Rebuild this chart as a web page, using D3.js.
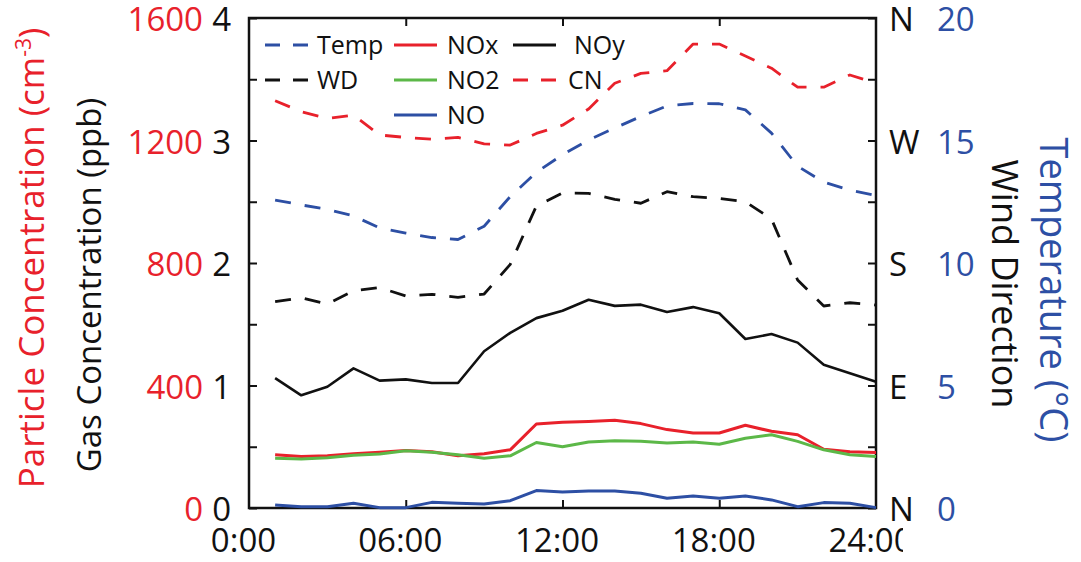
<!DOCTYPE html>
<html>
<head>
<meta charset="utf-8">
<script src="https://cdn.jsdelivr.net/npm/d3@7"></script>
<style>
  html, body { margin: 0; padding: 0; background: #fff; }
  svg { display: block; font-family: "Open Sans", "Noto Sans", sans-serif; }
</style>
</head>
<body>
<svg id="chart" width="1081" height="562"></svg>
<script>
// Diurnal profiles, hourly averages (hour of day 1..24)
const hours = [1, 2, 3, 4, 5, 6, 7, 8, 9, 10, 11, 12, 13, 14, 15, 16, 17, 18, 19, 20, 21, 22, 23, 24];

// Gas concentrations (ppb)
const noy = [1.06, 0.92, 0.99, 1.14, 1.04, 1.05, 1.02, 1.02, 1.28, 1.43, 1.55, 1.61, 1.70, 1.65, 1.66, 1.60, 1.64, 1.59, 1.38, 1.42, 1.35, 1.17, 1.10, 1.03];
const nox = [0.434, 0.42, 0.426, 0.443, 0.456, 0.47, 0.46, 0.426, 0.443, 0.475, 0.686, 0.70, 0.707, 0.716, 0.689, 0.64, 0.612, 0.612, 0.675, 0.626, 0.598, 0.48, 0.46, 0.453];
const no2 = [0.407, 0.40, 0.41, 0.43, 0.44, 0.467, 0.456, 0.434, 0.407, 0.426, 0.535, 0.50, 0.538, 0.549, 0.544, 0.53, 0.538, 0.52, 0.57, 0.598, 0.544, 0.475, 0.434, 0.42];
const no = [0.025, 0.011, 0.011, 0.038, 0.003, 0.003, 0.046, 0.038, 0.033, 0.06, 0.142, 0.131, 0.139, 0.139, 0.12, 0.079, 0.098, 0.079, 0.098, 0.066, 0.011, 0.044, 0.038, 0.003];

// Particle number concentration (cm^-3)
const cn = [1330, 1294, 1272, 1283, 1218, 1210, 1204, 1210, 1189, 1185, 1223, 1250, 1303, 1387, 1419, 1428, 1515, 1515, 1476, 1436, 1374, 1374, 1414, 1387];

// Temperature (deg C) and wind direction (deg)
const temp = [12.57, 12.37, 12.19, 11.92, 11.43, 11.22, 11.04, 10.96, 11.5, 12.71, 13.7, 14.42, 15.02, 15.51, 15.98, 16.41, 16.51, 16.50, 16.25, 15.3, 13.95, 13.3, 12.97, 12.75];
const wd = [151.6, 154.5, 149.9, 159.6, 161.9, 155.8, 157.0, 154.8, 157.2, 179.0, 221.9, 231.4, 231.2, 226.8, 223.9, 232.4, 228.7, 227.5, 225.0, 212.3, 167.5, 148.4, 150.8, 149.1];

// Axis ticks and labels
const xTicks = [0, 6, 12, 18, 24];
const xTickLabels = ["0:00", "06:00", "12:00", "18:00", "24:00"];
const gasTicks = [0, 1, 2, 3, 4];
const cnTicks = [0, 400, 800, 1200, 1600];
const tempTicks = [0, 5, 10, 15, 20];
const wdTicks = [0, 90, 180, 270, 360];
const wdLabels = ["N", "E", "S", "W", "N"];

const RED = "#e8212b", GREEN = "#5cb848", BLUE = "#2d4fa4", BLACK = "#111";

const svg = d3.select("#chart");
const L = 249, R = 876, T = 18, B = 508;

const x = d3.scaleLinear().domain([0, 24]).range([L, R]);
const yGas = d3.scaleLinear().domain([0, 4]).range([B, T]);
const yCN = d3.scaleLinear().domain([0, 1600]).range([B, T]);
const yTemp = d3.scaleLinear().domain([0, 20]).range([B, T]);
const yWD = d3.scaleLinear().domain([0, 360]).range([B, T]);

const tickFont = 33;

function styleAxis(g, color) {
  g.select(".domain").remove();
  g.selectAll(".tick line").attr("stroke", BLACK).attr("stroke-width", 2);
  g.selectAll(".tick text").attr("fill", color).attr("font-size", tickFont)
    .attr("font-family", "'Open Sans', sans-serif");
}

// Inner tick marks on all four sides
const halfTicks = d3.range(0, 4.01, 0.5);
svg.append("g").attr("transform", `translate(${L},0)`)
  .call(d3.axisLeft(yGas).tickValues(halfTicks).tickSize(-8).tickFormat(""))
  .call(g => styleAxis(g, BLACK));
svg.append("g").attr("transform", `translate(${R},0)`)
  .call(d3.axisRight(yGas).tickValues(halfTicks).tickSize(-8).tickFormat(""))
  .call(g => styleAxis(g, BLACK));
svg.append("g").attr("transform", `translate(0,${B})`)
  .call(d3.axisBottom(x).tickValues([6, 12, 18]).tickSize(-8).tickFormat(""))
  .call(g => styleAxis(g, BLACK));
svg.append("g").attr("transform", `translate(0,${T})`)
  .call(d3.axisTop(x).tickValues([6, 12, 18]).tickSize(-8).tickFormat(""))
  .call(g => styleAxis(g, BLACK));

// Left labels: gas (black) and particles (red)
svg.append("g").attr("transform", `translate(${L},2)`)
  .call(d3.axisLeft(yGas).tickValues(gasTicks).tickSize(0).tickPadding(18).tickFormat(d3.format("d")))
  .call(g => styleAxis(g, BLACK));
svg.append("g").attr("transform", `translate(${L},2)`)
  .call(d3.axisLeft(yCN).tickValues(cnTicks).tickSize(0).tickPadding(46).tickFormat(d3.format("d")))
  .call(g => styleAxis(g, RED));

// Right labels: wind direction (black) and temperature (blue)
svg.append("g").attr("transform", `translate(${R},2)`)
  .call(d3.axisRight(yWD).tickValues(wdTicks).tickSize(0).tickPadding(13).tickFormat((d, i) => wdLabels[i]))
  .call(g => styleAxis(g, BLACK));
svg.append("g").attr("transform", `translate(${R},2)`)
  .call(d3.axisRight(yTemp).tickValues(tempTicks).tickSize(0).tickPadding(61).tickFormat(d3.format("d")))
  .call(g => styleAxis(g, BLUE));

// Bottom time labels (right edge trimmed at x = 903)
svg.append("clipPath").attr("id", "xlabclip")
  .append("rect").attr("x", 0).attr("y", 0).attr("width", 903).attr("height", 60);
svg.append("g").attr("transform", `translate(0,${B})`).attr("clip-path", "url(#xlabclip)")
  .call(d3.axisBottom(x).tickValues(xTicks).tickSize(0).tickPadding(21).tickFormat((d, i) => xTickLabels[i]))
  .call(g => styleAxis(g, BLACK))
  .call(g => g.selectAll(".tick text").attr("dx", -6));

// Plot frame
svg.append("rect").attr("x", L).attr("y", T).attr("width", R - L).attr("height", B - T)
  .attr("fill", "none").attr("stroke", BLACK).attr("stroke-width", 2.5);

// Series
const DASH = "16,14";
const series = [
  { name: "CN", values: cn, y: yCN, color: RED, dash: DASH, width: 2.8 },
  { name: "Temp", values: temp, y: yTemp, color: BLUE, dash: DASH, width: 2.8 },
  { name: "WD", values: wd, y: yWD, color: BLACK, dash: DASH, width: 2.8 },
  { name: "NOy", values: noy, y: yGas, color: BLACK, dash: null, width: 2.6 },
  { name: "NOx", values: nox, y: yGas, color: RED, dash: null, width: 3 },
  { name: "NO2", values: no2, y: yGas, color: GREEN, dash: null, width: 3 },
  { name: "NO", values: no, y: yGas, color: BLUE, dash: null, width: 3 }
];

series.forEach(s => {
  const line = d3.line().x((d, i) => x(hours[i])).y(d => s.y(d));
  svg.append("path").datum(s.values)
    .attr("d", line)
    .attr("fill", "none")
    .attr("stroke", s.color)
    .attr("stroke-width", s.width)
    .attr("stroke-linejoin", "round")
    .attr("stroke-dasharray", s.dash);
});

// Legend
const legendItems = [
  { label: "Temp", color: BLUE, dash: true, lx: 265, tx: 317, cy: 45 },
  { label: "WD", color: BLACK, dash: true, lx: 265, tx: 317, cy: 80 },
  { label: "NOx", color: RED, dash: false, lx: 394, tx: 447, cy: 45 },
  { label: "NO2", color: GREEN, dash: false, lx: 394, tx: 447, cy: 80 },
  { label: "NO", color: BLUE, dash: false, lx: 394, tx: 447, cy: 115 },
  { label: "NOy", color: BLACK, dash: false, lx: 513, tx: 574, cy: 45 },
  { label: "CN", color: RED, dash: true, lx: 513, tx: 568, cy: 80 }
];
const lg = svg.append("g");
legendItems.forEach(it => {
  lg.append("line").attr("x1", it.lx).attr("x2", it.lx + 43)
    .attr("y1", it.cy).attr("y2", it.cy)
    .attr("stroke", it.color).attr("stroke-width", 2.8)
    .attr("stroke-dasharray", it.dash ? "15,13" : null);
  lg.append("text").attr("x", it.tx).attr("y", it.cy + 9)
    .attr("font-size", 25).attr("fill", BLACK).text(it.label);
});

// Axis titles
const t1 = svg.append("text").attr("transform", "translate(44,258) rotate(-90)")
  .attr("text-anchor", "middle").attr("font-size", 35).attr("fill", RED);
t1.append("tspan").text("Particle Concentration (cm");
t1.append("tspan").attr("font-size", 21).attr("baseline-shift", "60%").text("-3");
t1.append("tspan").text(")");

svg.append("text").attr("transform", "translate(101,285) rotate(-90)")
  .attr("text-anchor", "middle").attr("font-size", 33).attr("fill", BLACK)
  .text("Gas Concentration (ppb)");

svg.append("text").attr("transform", "translate(992,284) rotate(90)")
  .attr("text-anchor", "middle").attr("font-size", 36).attr("fill", BLACK)
  .text("Wind Direction");

svg.append("text").attr("transform", "translate(1040,290) rotate(90)")
  .attr("text-anchor", "middle").attr("font-size", 38).attr("fill", BLUE)
  .text("Temperature (\u00B0C)");
</script>
</body>
</html>
